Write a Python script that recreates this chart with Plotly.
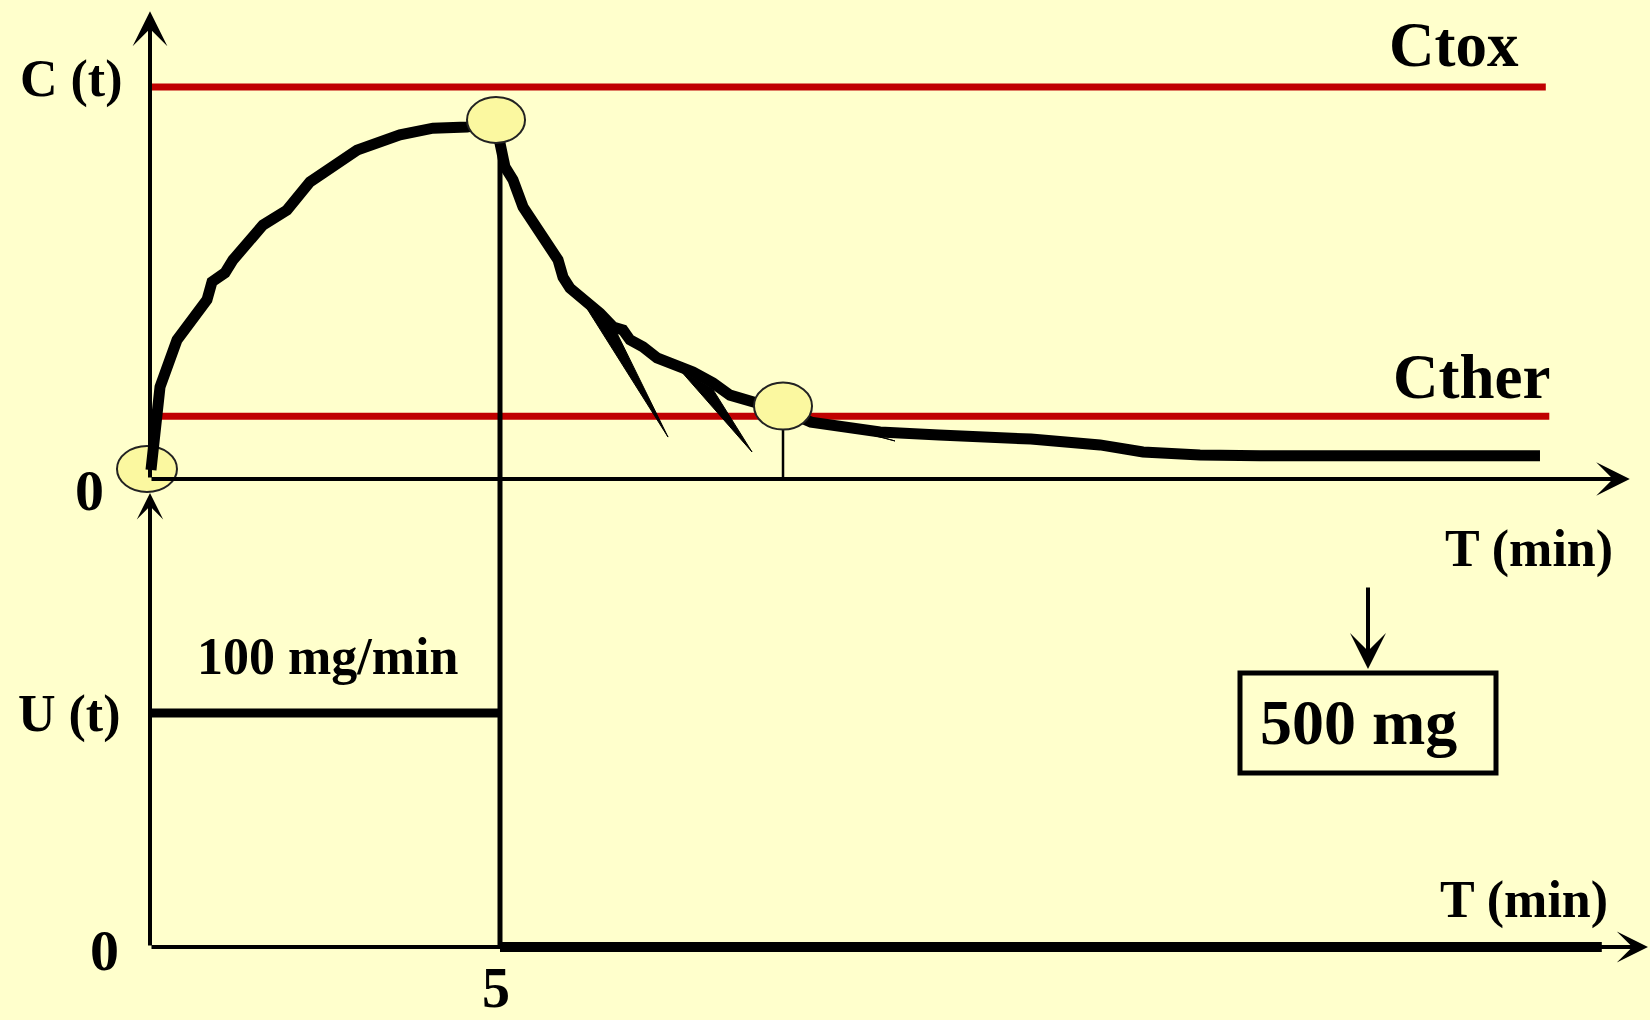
import plotly.graph_objects as go

# ---------------- data ----------------
# concentration curve C(t) (arbitrary concentration units), t in minutes
curve_t = [0.014, 0.043, 0.10, 0.143, 0.386, 0.814, 0.886, 1.071, 1.186, 1.571, 1.614,
           1.957, 2.10, 2.286, 2.957, 3.571, 4.043, 4.529, 4.90, 4.94, 5.0, 5.071, 5.186,
           5.257, 5.329, 5.829, 5.90, 6.0, 6.171, 6.429, 6.614, 6.757, 6.857, 7.043, 7.243,
           7.571, 7.757, 8.043, 8.286, 8.671, 9.043, 9.443, 10.429, 11.271, 12.586, 13.571,
           14.186, 15.0, 15.857, 19.857]
curve_c = [0.23, 0.82, 2.02, 2.35, 3.55, 4.57, 5.03, 5.26, 5.59, 6.30, 6.48,
           6.86, 7.19, 7.58, 8.39, 8.78, 8.95, 8.98, 9.11, 9.03, 8.57, 7.96, 7.63,
           7.19, 6.94, 5.59, 5.15, 4.87, 4.64, 4.23, 3.88, 3.80, 3.55, 3.37, 3.09,
           2.86, 2.73, 2.45, 2.14, 1.94, 1.76, 1.45, 1.20, 1.12, 1.02, 0.87,
           0.69, 0.61, 0.59, 0.59]

# thin wedge artefacts of the hand-drawn curve
spike1_t = [6.129, 7.40, 6.671, 6.429]
spike1_c = [4.67, 1.07, 3.72, 4.26]
spike2_t = [7.571, 8.60, 8.029]
spike2_c = [2.78, 0.69, 2.32]
spike3_t = [9.357, 10.643, 10.0]
spike3_c = [1.56, 0.97, 1.30]

# highlighted points (origin, peak, crossing of Cther)
mark_t = [-0.043, 4.943, 9.043]
mark_c = [0.255, 9.16, 1.86]

# thresholds
ctox = 10.0
cther = 1.6
ctox_t = [0.0, 19.94]
cther_t = [0.0, 19.99]

# infusion rate U(t), mg/min
u_on_t = [0.0, 5.0]
u_on = [100, 100]
u_off_t = [5.0, 20.74]
u_off = [0, 0]

infusion_end = 5.0
peak_c = 9.1
cross_t = 9.043
cross_c_low = 1.25

# axis extents (data units)
t_axis_top_end = 21.14
t_axis_bot_end = 21.40
c_axis_end = 11.93
u_axis_end = 194.0

# ---------------- layout geometry ----------------
W, H = 1650, 1020
X0_PX, PX_PER_MIN = 150, 70.0
C0_PX, PX_PER_C = 479, 39.2
U0_PX, PX_PER_U = 947, 2.34

x_range = [-X0_PX / PX_PER_MIN, (W - X0_PX) / PX_PER_MIN]
c_range = [-(H - C0_PX) / PX_PER_C, C0_PX / PX_PER_C]
u_range = [-(H - U0_PX) / PX_PER_U, U0_PX / PX_PER_U]


def c_to_u(c):
    px = C0_PX - c * PX_PER_C
    return (U0_PX - px) / PX_PER_U


BG = "#FFFFCC"
RED = "#C00000"
YEL = "#FBF8A0"
FONT = "Liberation Serif"

fig = go.Figure()

# threshold lines
fig.add_trace(go.Scatter(x=ctox_t, y=[ctox, ctox], mode="lines",
                         line=dict(color=RED, width=7), yaxis="y"))
fig.add_trace(go.Scatter(x=cther_t, y=[cther, cther], mode="lines",
                         line=dict(color=RED, width=7), yaxis="y"))

# drop line at end of infusion (spans both panels, drawn on U axis)
fig.add_trace(go.Scatter(x=[infusion_end, infusion_end], y=[0, c_to_u(peak_c)], mode="lines",
                         line=dict(color="black", width=5), yaxis="y2"))
# stem below the Cther crossing
fig.add_trace(go.Scatter(x=[cross_t, cross_t], y=[0, cross_c_low], mode="lines",
                         line=dict(color="black", width=2.5), yaxis="y"))

# spikes
for st, sc in [(spike1_t, spike1_c), (spike2_t, spike2_c), (spike3_t, spike3_c)]:
    fig.add_trace(go.Scatter(x=st, y=sc, mode="lines", fill="toself", fillcolor="black",
                             line=dict(color="black", width=1), yaxis="y"))

# concentration curve
fig.add_trace(go.Scatter(x=curve_t, y=curve_c, mode="lines",
                         line=dict(color="black", width=11, shape="linear"),
                         yaxis="y"))

# infusion rate
fig.add_trace(go.Scatter(x=u_on_t, y=u_on, mode="lines",
                         line=dict(color="black", width=9), yaxis="y2"))
fig.add_trace(go.Scatter(x=u_off_t, y=u_off, mode="lines",
                         line=dict(color="black", width=10), yaxis="y2"))

shapes = []
# highlighted ellipses
ell_sizes = [(60, 46), (58, 46), (58, 47)]
for i, (tt, cc) in enumerate(zip(mark_t, mark_c)):
    w, h = ell_sizes[i]
    shapes.append(dict(type="circle", xref="x", yref="y",
                       xsizemode="pixel", ysizemode="pixel",
                       xanchor=tt, yanchor=cc,
                       x0=-w / 2, x1=w / 2, y0=-h / 2, y1=h / 2,
                       fillcolor=YEL, line=dict(color="#222222", width=2),
                       layer="below" if i == 0 else "above"))
# 500 mg box
shapes.append(dict(type="rect", xref="paper", yref="paper",
                   x0=1240 / W, x1=1496 / W, y0=1 - 773 / H, y1=1 - 673 / H,
                   line=dict(color="black", width=5), fillcolor="rgba(0,0,0,0)"))

ann = []


def arrow(x, y, ax, ay, yref, width=4, size=1.4):
    ann.append(dict(x=x, y=y, ax=ax, ay=ay, xref="x", yref=yref, axref="x", ayref=yref,
                    text="", showarrow=True, arrowhead=3, arrowwidth=width,
                    arrowsize=size, arrowcolor="black", standoff=0))


# axes
arrow(0, c_axis_end, 0, 0, "y", width=4, size=1.45)
arrow(t_axis_top_end, 0, 0, 0, "y", width=4, size=1.4)
arrow(0, u_axis_end, 0, 0, "y2", width=4, size=1.1)
arrow(t_axis_bot_end, 0, 0, 0, "y2", width=4, size=1.3)

# dose arrow
ann.append(dict(x=1368 / W, y=1 - 669 / H, xref="paper", yref="paper", ax=0, ay=-83,
                text="", showarrow=True, arrowhead=3, arrowwidth=4, arrowsize=1.5,
                arrowcolor="black", standoff=0))


def label(text, xpx, ypx, size):
    ann.append(dict(x=xpx / W, y=1 - ypx / H, xref="paper", yref="paper",
                    text="<b>" + text + "</b>", showarrow=False,
                    xanchor="center", yanchor="middle",
                    font=dict(family=FONT, size=size, color="black")))


label("C (t)", 71, 79, 52)
label("Ctox", 1454, 45, 63)
label("Cther", 1471, 377, 63)
label("0", 89, 490, 58)
label("T (min)", 1529, 549, 52)
label("100 mg/min", 328, 656, 52)
label("U (t)", 69, 714, 52)
label("500 mg", 1358, 722, 64)
label("T (min)", 1524, 900, 52)
label("0", 104, 950, 58)
label("5", 496, 988, 56)

fig.update_layout(
    width=W, height=H,
    margin=dict(l=0, r=0, t=0, b=0),
    paper_bgcolor=BG, plot_bgcolor=BG,
    showlegend=False,
    xaxis=dict(range=x_range, visible=False, fixedrange=True),
    yaxis=dict(range=c_range, visible=False, fixedrange=True),
    yaxis2=dict(range=u_range, visible=False, overlaying="y", fixedrange=True),
    shapes=shapes,
    annotations=ann,
)

fig.write_html("out.html", config={"displayModeBar": False},
               post_script="document.body.style.margin='0';"
                           "document.body.style.background='#FFFFCC';")
